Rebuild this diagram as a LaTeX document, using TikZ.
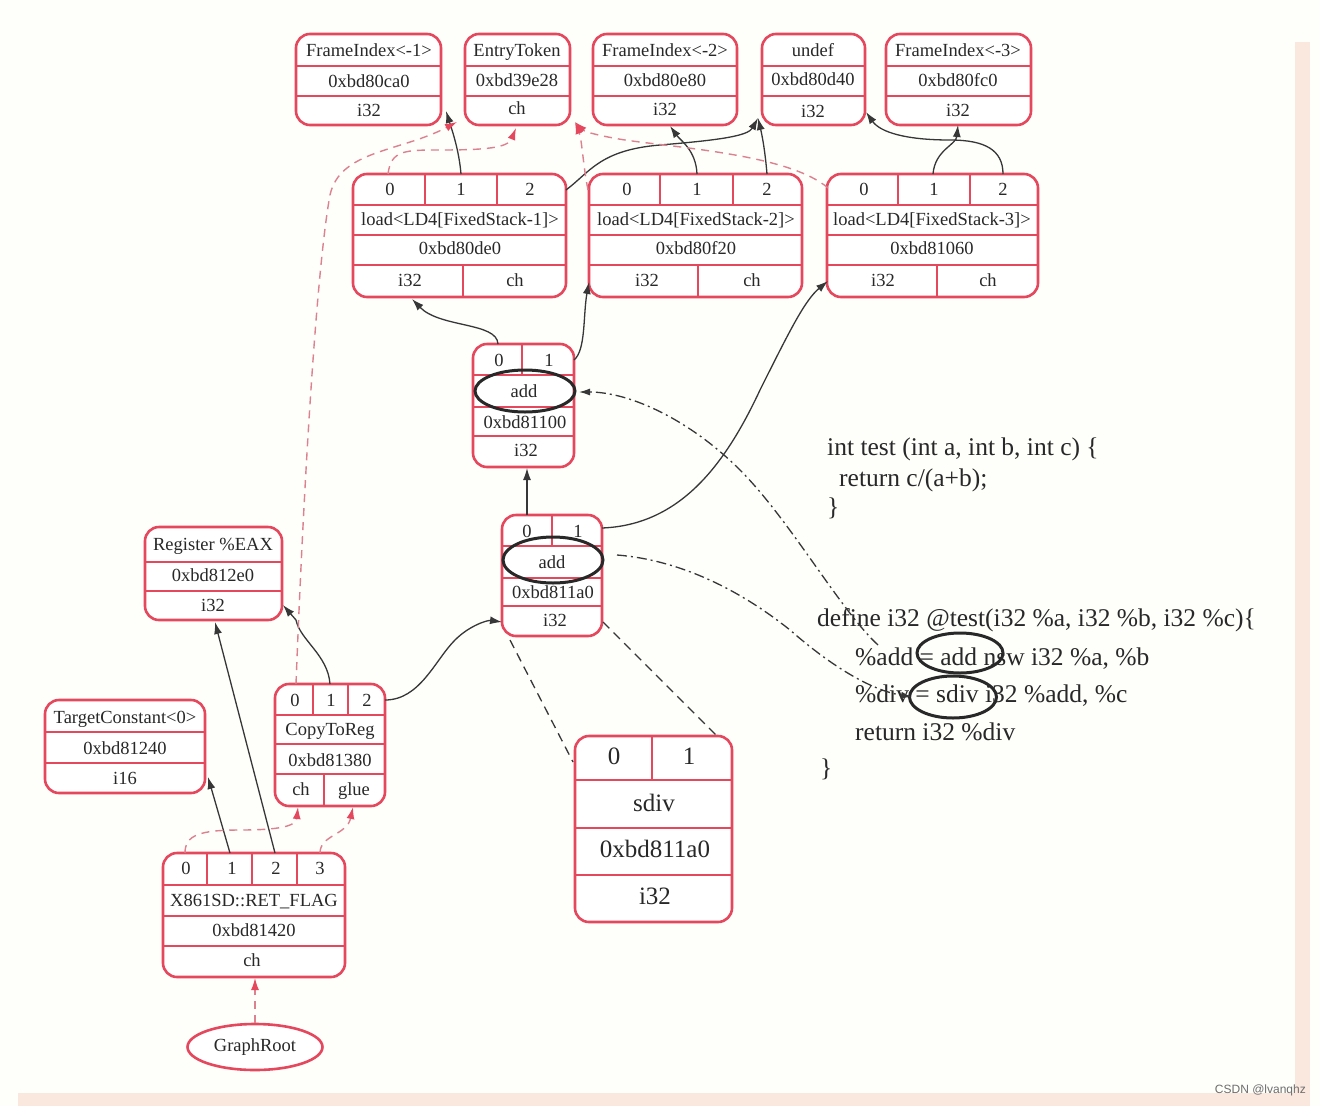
\documentclass[tikz,border=0pt]{standalone}
\usepackage{fontspec}
\setmainfont{Liberation Serif}
\newfontfamily\wmfont{Liberation Sans}
\usetikzlibrary{arrows.meta,shapes.geometric}
\definecolor{rd}{RGB}{229,71,92}
\definecolor{chainc}{RGB}{220,130,142}
\definecolor{ink}{RGB}{40,40,40}
\definecolor{edgec}{RGB}{55,55,55}
\definecolor{bgc}{RGB}{254,254,251}
\definecolor{band}{RGB}{250,232,222}
\newcommand\rec[5]{\node[rec, minimum width={(#4)-(#2)}, minimum height={(#5)-(#3)}] (#1) at ({((#2)+(#4))/2},{((#3)+(#5))/2}) {};}
\newcommand\hl[3]{\draw[recl] (#1,#3) -- (#2,#3);}
\newcommand\vl[3]{\draw[recl] (#1,#2) -- (#1,#3);}
\newcommand\tx[4]{\node[lbl] (#1) at (#2,#3) {#4};}
\newcommand\bx[4]{\node[big] (#1) at (#2,#3) {#4};}
\tikzset{
  rec/.style={draw=rd, line width=2.6pt, rounded corners=14pt, fill=white, inner sep=0pt},
  recl/.style={draw=rd, line width=2pt},
  lbl/.style={text=ink, font=\fontsize{18.5}{20}\selectfont, inner sep=0pt, text height=0.66em, text depth=0pt, yshift=-3pt},
  big/.style={text=ink, font=\fontsize{25}{28}\selectfont, inner sep=0pt, text height=0.66em, text depth=0pt, yshift=-4.5pt},
  code/.style={text=ink, font=\fontsize{25.5}{28}\selectfont, inner sep=0pt, anchor=base west},
  hilite/.style={draw=ink, ellipse, line width=3pt, inner sep=0pt},
  dep/.style={draw=edgec, line width=1.3pt, -{Latex[length=12pt,width=8pt]}},
  chain/.style={draw=chainc, line width=1.4pt, dash pattern=on 8pt off 6pt, -{Latex[length=12pt,width=8pt,color=rd]}},
  zoomln/.style={draw=edgec, line width=1.3pt, dash pattern=on 9pt off 6pt},
  dashdot/.style={draw=edgec, line width=1.3pt, dash pattern=on 10pt off 4pt on 2pt off 4pt},
}
\begin{document}
\begin{tikzpicture}[x=1pt,y=-1pt]
\useasboundingbox (0,0) rectangle (1320,1106);
\fill[bgc] (0,0) rectangle (1320,1106);
\fill[band] (1295,42) rectangle (1310,1095);
\fill[band] (18,1093) rectangle (1310,1106);

% ---------- top row ----------
\rec{fi1}{296}{34}{441}{125}
\hl{296}{441}{66}\hl{296}{441}{96}
\tx{fi1a}{369}{50}{FrameIndex<-1>}
\tx{fi1b}{369}{81}{0xbd80ca0}
\tx{fi1c}{369}{110}{i32}

\rec{et}{465}{34}{570}{125}
\hl{465}{570}{66}\hl{465}{570}{96}
\tx{eta}{517}{50}{EntryToken}
\tx{etb}{517}{80}{0xbd39e28}
\tx{etc}{517}{108}{ch}

\rec{fi2}{593}{34}{737}{125}
\hl{593}{737}{66}\hl{593}{737}{96}
\tx{fi2a}{665}{50}{FrameIndex<-2>}
\tx{fi2b}{665}{80}{0xbd80e80}
\tx{fi2c}{665}{109}{i32}

\rec{un}{762}{34}{865}{125}
\hl{762}{865}{66}\hl{762}{865}{96}
\tx{una}{813}{50}{undef}
\tx{unb}{813}{79}{0xbd80d40}
\tx{unc}{813}{111}{i32}

\rec{fi3}{886}{34}{1031}{125}
\hl{886}{1031}{66}\hl{886}{1031}{96}
\tx{fi3a}{958}{50}{FrameIndex<-3>}
\tx{fi3b}{958}{80}{0xbd80fc0}
\tx{fi3c}{958}{110}{i32}

% ---------- loads ----------
\rec{l1}{353}{174}{566}{297}
\hl{353}{566}{205}\hl{353}{566}{235}\hl{353}{566}{265}
\vl{425}{174}{205}\vl{497}{174}{205}\vl{463}{265}{297}
\tx{l1a}{390}{189}{0}\tx{l1b}{461}{189}{1}\tx{l1c}{530}{189}{2}
\tx{l1d}{460}{219}{load<LD4[FixedStack-1]>}
\tx{l1e}{460}{248}{0xbd80de0}
\tx{l1f}{410}{280}{i32}\tx{l1g}{515}{280}{ch}

\rec{l2}{589}{174}{802}{297}
\hl{589}{802}{205}\hl{589}{802}{235}\hl{589}{802}{265}
\vl{660}{174}{205}\vl{733}{174}{205}\vl{698}{265}{297}
\tx{l2a}{627}{189}{0}\tx{l2b}{697}{189}{1}\tx{l2c}{767}{189}{2}
\tx{l2d}{696}{219}{load<LD4[FixedStack-2]>}
\tx{l2e}{696}{248}{0xbd80f20}
\tx{l2f}{647}{280}{i32}\tx{l2g}{752}{280}{ch}

\rec{l3}{827}{174}{1038}{297}
\hl{827}{1038}{205}\hl{827}{1038}{235}\hl{827}{1038}{265}
\vl{898}{174}{205}\vl{970}{174}{205}\vl{937}{265}{297}
\tx{l3a}{864}{189}{0}\tx{l3b}{934}{189}{1}\tx{l3c}{1003}{189}{2}
\tx{l3d}{932}{219}{load<LD4[FixedStack-3]>}
\tx{l3e}{932}{248}{0xbd81060}
\tx{l3f}{883}{280}{i32}\tx{l3g}{988}{280}{ch}

% ---------- adds ----------
\rec{a1}{473}{344}{574}{467}
\hl{473}{574}{375}\hl{473}{574}{407}\hl{473}{574}{436}
\vl{522}{344}{375}
\tx{a1a}{499}{360}{0}\tx{a1b}{549}{360}{1}
\tx{a1c}{524}{391}{add}
\tx{a1d}{525}{422}{0xbd81100}
\tx{a1e}{526}{450}{i32}
\node[hilite, minimum width=100pt, minimum height=42pt] (e1) at (525,391) {};

\rec{a2}{502}{515}{602}{636}
\hl{502}{602}{546}\hl{502}{602}{578}\hl{502}{602}{606}
\vl{552}{515}{546}
\tx{a2a}{527}{531}{0}\tx{a2b}{578}{531}{1}
\tx{a2c}{552}{562}{add}
\tx{a2d}{553}{592}{0xbd811a0}
\tx{a2e}{555}{620}{i32}
\node[hilite, minimum width=100pt, minimum height=46pt] (e2) at (553,560) {};

% ---------- left part ----------
\rec{reg}{145}{527}{282}{620}
\hl{145}{282}{562}\hl{145}{282}{591}
\tx{rega}{213}{544}{Register \%EAX}
\tx{regb}{213}{575}{0xbd812e0}
\tx{regc}{213}{605}{i32}

\rec{ctr}{275}{684}{385}{806}
\hl{275}{385}{715}\hl{275}{385}{744}\hl{275}{385}{774}
\vl{313}{684}{715}\vl{348}{684}{715}\vl{324}{774}{806}
\tx{ctra}{295}{700}{0}\tx{ctrb}{331}{700}{1}\tx{ctrc}{367}{700}{2}
\tx{ctrd}{330}{729}{CopyToReg}
\tx{ctre}{330}{760}{0xbd81380}
\tx{ctrf}{301}{789}{ch}\tx{ctrg}{354}{789}{glue}

\rec{tc}{45}{700}{205}{793}
\hl{45}{205}{732}\hl{45}{205}{763}
\tx{tca}{125}{717}{TargetConstant<0>}
\tx{tcb}{125}{748}{0xbd81240}
\tx{tcc}{125}{778}{i16}

\rec{ret}{163}{853}{345}{977}
\hl{163}{345}{885}\hl{163}{345}{916}\hl{163}{345}{946}
\vl{207}{853}{885}\vl{252}{853}{885}\vl{297}{853}{885}
\tx{reta}{186}{868}{0}\tx{retb}{232}{868}{1}\tx{retc}{276}{868}{2}\tx{retd}{320}{868}{3}
\tx{rete}{254}{900}{X861SD::RET\_FLAG}
\tx{retf}{254}{930}{0xbd81420}
\tx{retg}{252}{960}{ch}

\node[draw=rd, ellipse, line width=2.6pt, fill=white, minimum width=135pt, minimum height=46pt, inner sep=0pt, text=ink, font=\fontsize{18.5}{20}\selectfont] (root) at (255,1047) {GraphRoot};

% ---------- sdiv ----------
\rec{sd}{575}{736}{732}{922}
\hl{575}{732}{780}\hl{575}{732}{828}\hl{575}{732}{875}
\vl{652}{736}{780}
\bx{sda}{614}{757}{0}\bx{sdb}{689}{757}{1}
\bx{sdc}{654}{804}{sdiv}
\bx{sdd}{655}{850}{0xbd811a0}
\bx{sde}{655}{897}{i32}

% ---------- code ----------
\node[code] (c1) at (827,455) {int test (int a, int b, int c) \{};
\node[code] (c2) at (839,486) {return c/(a+b);};
\node[code] (c3) at (827,515) {\}};
\node[code] (c4) at (817,626) {define i32 @test(i32 \%a, i32 \%b, i32 \%c)\{};
\node[code] (c5) at (855,665) {\%add = add nsw i32 \%a, \%b};
\node[code] (c6) at (855,702) {\%div = sdiv i32 \%add, \%c};
\node[code] (c7) at (855,740) {return i32 \%div};
\node[code] (c8) at (820,776) {\}};
\node[hilite, minimum width=86pt, minimum height=40pt] (ce1) at (960,653) {};
\node[hilite, minimum width=87pt, minimum height=42pt] (ce2) at (953,697) {};

% ---------- port / end coordinates ----------
\coordinate (l1p0) at (388,174); \coordinate (l1p1) at (461,174); \coordinate (l1p2) at (566,190);
\coordinate (l2p0) at (588,190); \coordinate (l2p1) at (697,174); \coordinate (l2p2) at (767,174);
\coordinate (l3p0) at (828,188); \coordinate (l3p1) at (933,174); \coordinate (l3p2) at (1003,174);
\coordinate (a1p0) at (498,344); \coordinate (a1p1) at (574,360);
\coordinate (a2p0) at (527,515); \coordinate (a2p1) at (602,528);
\coordinate (cp0) at (296,684); \coordinate (cp1) at (330,684); \coordinate (cp2) at (385,700);
\coordinate (rp0) at (185,853); \coordinate (rp1) at (230,853); \coordinate (rp2) at (275,853); \coordinate (rp3) at (320,853);
\coordinate (fi1in) at (446,111); \coordinate (etA) at (457,122); \coordinate (etB) at (516,128); \coordinate (etC) at (575,122);
\coordinate (fi2in) at (670,126); \coordinate (unA) at (758,118); \coordinate (unB) at (866,112); \coordinate (fi3in) at (958,125);
\coordinate (l1in) at (412,299); \coordinate (l2in) at (589,282); \coordinate (l3in) at (828,281);
\coordinate (a1in) at (527,468); \coordinate (a1e) at (579,392); \coordinate (a2in) at (502,622);
\coordinate (regA) at (283,605); \coordinate (regB) at (215,622); \coordinate (tcin) at (208,777);
\coordinate (ctch) at (298,807); \coordinate (ctglue) at (353,807); \coordinate (retin) at (255,978);
\coordinate (a2bl) at (510,640); \coordinate (sdtl) at (573,762); \coordinate (a2br) at (603,622); \coordinate (sdtr) at (718,737);
\coordinate (dd1end) at (878,645); \coordinate (dd2start) at (617,555); \coordinate (dd2end) at (912,697);

% ---------- data edges ----------
\draw[dep] (l1p1) .. controls (459,150) and (452,130) .. (fi1in);
\draw[dep] (l1p2) .. controls (590,172) and (600,150) .. (660,145) .. controls (720,140) and (748,136) .. (unA);
\draw[dep] (l2p1) .. controls (696,150) and (680,140) .. (fi2in);
\draw[dep] (l2p2) .. controls (765,150) and (762,135) .. (unA);
\draw[dep] (l3p1) .. controls (935,150) and (956,145) .. (fi3in);
\draw[dep] (l3p2) .. controls (1003,150) and (985,140) .. (950,140) .. controls (905,140) and (880,132) .. (unB);
\draw[dep] (a1p0) .. controls (497,322) and (440,328) .. (l1in);
\draw[dep] (a1p1) .. controls (586,350) and (583,315) .. (l2in);
\draw[dep] (a2p0) -- (a1in);
\draw[dep] (a2p1) .. controls (680,525) and (725,465) .. (760,390) .. controls (790,330) and (805,300) .. (l3in);
\draw[dep] (cp2) .. controls (420,700) and (435,660) .. (455,640) .. controls (470,625) and (488,620) .. (a2in);
\draw[dep] (cp1) .. controls (328,655) and (300,640) .. (296,620) -- (regA);
\draw[dep] (rp2) -- (regB);
\draw[dep] (rp1) -- (tcin);

% ---------- chain edges ----------
\draw[chain] (l1p0) .. controls (391,150) and (405,150) .. (440,150) .. controls (485,150) and (508,148) .. (etB);
\draw[chain] (cp0) .. controls (305,450) and (318,260) .. (330,195) .. controls (340,150) and (400,152) .. (etA);
\draw[chain] (l2p0) .. controls (583,165) and (582,140) .. (etC);
\draw[chain] (l3p0) .. controls (790,155) and (680,148) .. (625,140) .. controls (600,136) and (585,132) .. (etC);
\draw[chain] (rp0) .. controls (185,835) and (200,830) .. (240,830) .. controls (280,830) and (296,826) .. (ctch);
\draw[chain] (rp3) .. controls (320,835) and (347,835) .. (ctglue);
\draw[chain] (root) -- (retin);

% ---------- annotation lines ----------
\draw[zoomln] (a2bl) -- (sdtl);
\draw[zoomln] (a2br) -- (sdtr);
\draw[dashdot, -{Latex[length=11pt,width=7pt]}] (dd1end) .. controls (840,610) and (790,520) .. (740,470) .. controls (690,420) and (630,392) .. (a1e);
\draw[dashdot, -{Latex[length=11pt,width=7pt]}] (dd2start) .. controls (680,560) and (740,590) .. (790,630) .. controls (830,665) and (870,690) .. (dd2end);

\node[anchor=base east, font=\wmfont\fontsize{12}{13}\selectfont, text={rgb,255:red,110;green,110;blue,110}, inner sep=0pt] (wm) at (1306,1093) {CSDN @lvanqhz};
\end{tikzpicture}
\end{document}
